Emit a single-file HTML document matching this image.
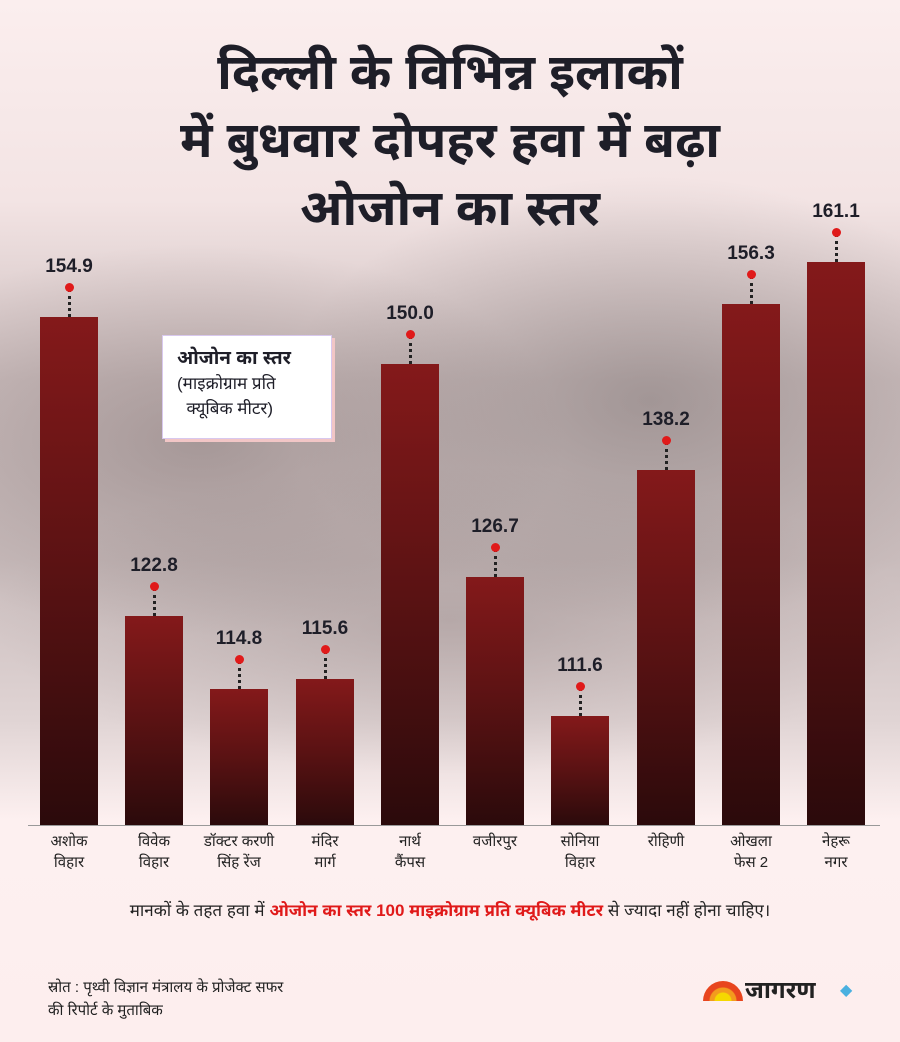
<!DOCTYPE html>
<html><head><meta charset="utf-8"><style>
*{margin:0;padding:0;box-sizing:border-box}
body{width:900px;height:1042px;overflow:hidden;font-family:"Liberation Sans","Noto Sans Devanagari","Lohit Devanagari",sans-serif;position:relative;
background:
radial-gradient(ellipse 520px 280px at 200px 440px,rgba(120,105,105,.45),transparent 70%),
radial-gradient(ellipse 520px 320px at 650px 400px,rgba(110,100,100,.45),transparent 70%),
radial-gradient(ellipse 650px 220px at 450px 620px,rgba(140,125,125,.4),transparent 70%),
linear-gradient(#fbeeee 0,#f3e4e4 200px,#cdbfbf 380px,#c9bcbc 560px,#e0d4d4 720px,#fdf0f0 820px,#fdeeee 100%);}
.t{position:absolute;left:0;width:900px;text-align:center;font-weight:bold;font-size:50px;line-height:68px;color:#1e1e28;top:38px}
.bar{position:absolute;bottom:217px;background:linear-gradient(#84191a,#5a1213 50%,#2b0a0b);}
.v{position:absolute;width:100px;text-align:center;font-size:19px;font-weight:bold;color:#1e1e28}
.dot{position:absolute;width:9px;height:9px;border-radius:50%;background:#e01a1a}
.ln{position:absolute;width:0;border-left:3px dotted #222}
.lab{position:absolute;top:831px;width:120px;text-align:center;font-size:15px;line-height:21px;color:#222}
.axis{position:absolute;left:28px;width:852px;top:825px;height:1px;background:#999}
</style></head><body>
<div class="t">दिल्ली के विभिन्न इलाकों<br>में बुधवार दोपहर हवा में बढ़ा<br>ओजोन का स्तर</div>
<div style="position:absolute;left:162px;top:335px;width:170px;height:104px;background:#fff;border:1px solid #d8c8ee;box-shadow:3px 3px 0 #f2c6c6;padding:10px 0 0 14px;font-size:17px;line-height:25px;color:#1e1e28"><b style="font-size:19px">ओजोन का स्तर</b><br>(माइक्रोग्राम प्रति<br>&nbsp;&nbsp;क्यूबिक मीटर)</div>
<div id="c"></div>
<div class="axis"></div>
<div style="position:absolute;top:901px;left:0;width:900px;text-align:center;font-size:17px;color:#222">मानकों के तहत हवा में <b style="color:#e01a1a">ओजोन का स्तर 100 माइक्रोग्राम प्रति क्यूबिक मीटर</b> से ज्यादा नहीं होना चाहिए।</div>
<div style="position:absolute;top:976px;left:48px;font-size:15px;line-height:23px;color:#222">स्रोत : पृथ्वी विज्ञान मंत्रालय के प्रोजेक्ट सफर<br>की रिपोर्ट के मुताबिक</div>
<div style="position:absolute;left:703px;top:981px;width:40px;height:20px;border-radius:20px 20px 0 0;background:radial-gradient(circle at 50% 100%,#f5d800 8px,#f39b1e 9px,#f39b1e 13px,#e8451e 14px)"></div>
<div style="position:absolute;left:745px;top:976px;font-size:24px;font-weight:bold;color:#222">जागरण</div>
<div style="position:absolute;left:840px;top:980px;color:#4ab0e0;font-size:16px">◆</div>
<script>
const d=[[40,317,"154.9","अशोक<br>विहार"],[125,616,"122.8","विवेक<br>विहार"],[210,689,"114.8","डॉक्टर करणी<br>सिंह रेंज"],[296,679,"115.6","मंदिर<br>मार्ग"],[381,364,"150.0","नार्थ<br>कैंपस"],[466,577,"126.7","वजीरपुर"],[551,716,"111.6","सोनिया<br>विहार"],[637,470,"138.2","रोहिणी"],[722,304,"156.3","ओखला<br>फेस 2"],[807,262,"161.1","नेहरू<br>नगर"]];
let h="";for(const[x,t,v,l]of d){const c=x+29;
h+=`<div class="bar" style="left:${x}px;width:58px;top:${t}px"></div><div class="ln" style="left:${c-1}px;top:${t-28}px;height:28px"></div><div class="dot" style="left:${c-4}px;top:${t-34}px"></div><div class="v" style="left:${c-50}px;top:${t-61}px">${v}</div><div class="lab" style="left:${c-60}px">${l}</div>`;}
document.getElementById("c").innerHTML=h;
</script>
</body></html>
